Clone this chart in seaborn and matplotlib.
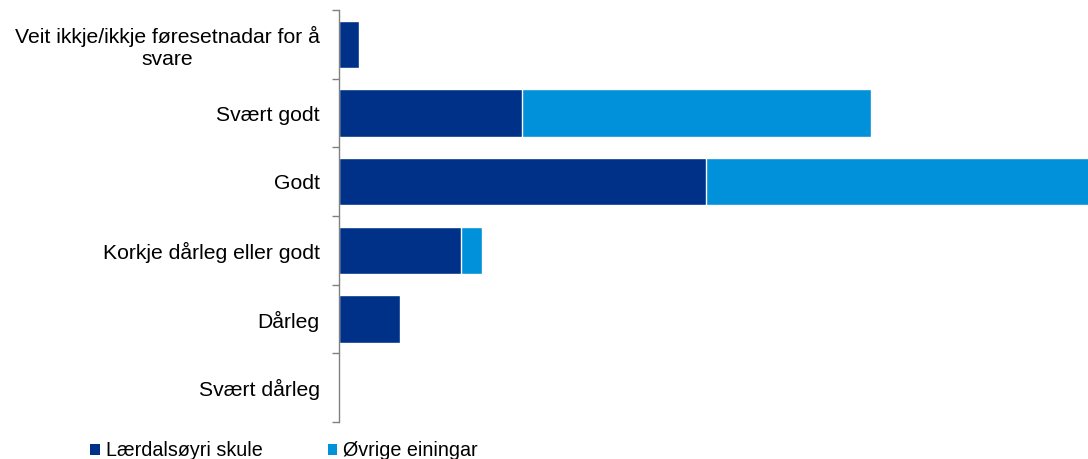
import matplotlib
matplotlib.use("Agg")
import matplotlib.pyplot as plt
import seaborn as sns
import pandas as pd
from matplotlib.patches import Patch

categories = [
    "Veit ikkje/ikkje føresetnadar for å\nsvare",
    "Svært godt",
    "Godt",
    "Korkje dårleg eller godt",
    "Dårleg",
    "Svært dårleg",
]
laerdal = [2.7, 24.3, 48.6, 16.2, 8.1, 0.0]
ovrige = [0.0, 46.1, 51.1, 2.8, 0.0, 0.0]
series_names = ["Lærdalsøyri skule", "Øvrige einingar"]

dark = "#003189"
light = "#0091DA"

sns.set_theme(style="white")
plt.rcParams["font.family"] = ["Liberation Sans", "DejaVu Sans"]
plt.rcParams["text.color"] = "black"

df = pd.DataFrame({"kategori": categories, "a": laerdal, "b": ovrige})
df["total"] = df["a"] + df["b"]

fig = plt.figure(figsize=(10.88, 4.59), dpi=100)
ax = fig.add_axes([339 / 1088, 37 / 459, 1 - 339 / 1088, 412 / 459])

# stacked bars: total in light blue, school share drawn over it
sns.barplot(data=df, y="kategori", x="total", orient="h", color=light,
            saturation=1, width=0.69, edgecolor="white", linewidth=1, ax=ax)
sns.barplot(data=df, y="kategori", x="a", orient="h", color=dark,
            saturation=1, width=0.69, edgecolor="white", linewidth=1, ax=ax)

ax.set_xlim(0, 99.2)
ax.set_ylim(5.5, -0.5)
ax.set_xlabel("")
ax.set_ylabel("")
ax.set_xticks([])

for s in ["top", "right", "bottom"]:
    ax.spines[s].set_visible(False)
ax.spines["left"].set_color("#808080")
ax.spines["left"].set_linewidth(1)

fs = 15.2
ax.set_yticks(range(len(categories)))
ax.set_yticklabels(categories, fontsize=fs, color="black", multialignment="center")
ax.tick_params(axis="y", which="major", left=True, length=0, pad=14)
# boundary ticks between categories
ax.set_yticks([i - 0.5 for i in range(len(categories) + 1)], minor=True)
ax.tick_params(axis="y", which="minor", left=True, length=5, width=1,
               color="#808080", direction="out")

handles = [Patch(facecolor=dark, edgecolor="none"), Patch(facecolor=light, edgecolor="none")]
leg = fig.legend(handles, series_names, loc="center left",
                 bbox_to_anchor=(90 / 1088, 1 - 451 / 459),
                 ncol=2, frameon=False, fontsize=14.2, handlelength=0.5, handleheight=0.5,
                 handletextpad=0.3, columnspacing=3.3, borderaxespad=0, borderpad=0)
for t in leg.get_texts():
    t.set_color("black")

fig.savefig("out.png", dpi=100)
